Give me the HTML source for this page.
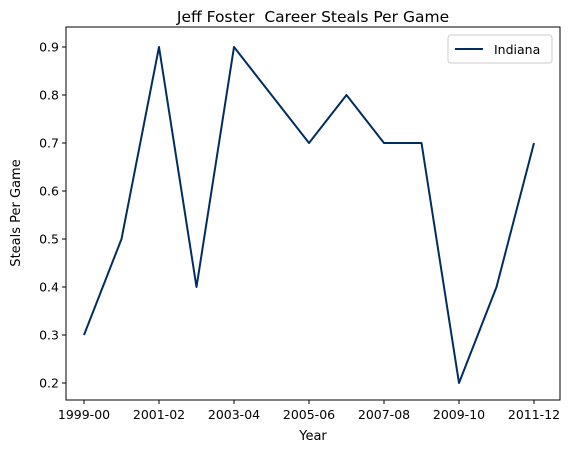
<!DOCTYPE html>
<html><head><meta charset="utf-8"><style>
body{margin:0;background:#fff;}
svg text{font-family:"DejaVu Sans","Liberation Sans",sans-serif;white-space:pre;}
</style></head><body>
<svg id="chart" width="573" height="453" xmlns="http://www.w3.org/2000/svg">
<text x="313" y="22" font-size="15.5" text-anchor="middle" xml:space="preserve">Jeff Foster  Career Steals Per Game</text>
<g id="axes"></g>
<text x="313" y="440" font-size="13" text-anchor="middle">Year</text>
<text x="20" y="213" font-size="13" text-anchor="middle" transform="rotate(-90 20 213)">Steals Per Game</text>
<g>
<rect x="448" y="35" width="104" height="28" rx="3" fill="#fff" stroke="#ccc"/>
<line x1="455" y1="49" x2="483" y2="49" stroke="#002D62" stroke-width="2"/>
<text x="494" y="54" font-size="12.5">Indiana</text>
</g>
</svg>
<script>
const years=["1999-00","2000-01","2001-02","2002-03","2003-04","2004-05","2005-06","2006-07","2007-08","2008-09","2009-10","2010-11","2011-12"];
const steals=[0.3,0.5,0.9,0.4,0.9,0.8,0.7,0.8,0.7,0.7,0.2,0.4,0.7];
const yTicks=[0.2,0.3,0.4,0.5,0.6,0.7,0.8,0.9];
const xTickLabels=["1999-00","2001-02","2003-04","2005-06","2007-08","2009-10","2011-12"];
const L=66,R=560,T=27,B=400;
const x=i=>84+i*(534-84)/(years.length-1);
const y=v=>383-(v-0.2)*480;
const NS="http://www.w3.org/2000/svg";
const g=document.getElementById('axes');
function mk(t,a){const e=document.createElementNS(NS,t);for(const k in a)e.setAttribute(k,a[k]);g.appendChild(e);return e;}
yTicks.forEach(v=>{
 const tk=mk('line',{x1:L-4,x2:L,y1:y(v),y2:y(v),stroke:'#000'});
 
 
 const t=mk('text',{x:L-7,y:y(v)+4.5,'font-size':12.5,'text-anchor':'end'});t.textContent=v.toFixed(1);
 
 
});
xTickLabels.forEach(lb=>{
 const i=years.indexOf(lb);
 const tk=mk('line',{x1:x(i),x2:x(i),y1:B,y2:B+4,stroke:'#000'});
 
 
 const t=mk('text',{x:x(i),y:B+19,'font-size':12.5,'text-anchor':'middle'});t.textContent=lb;
 
 
});
const line=mk('polyline',{points:steals.map((v,i)=>x(i)+','+y(v)).join(' '),fill:'none',stroke:'#002D62','stroke-width':2,'stroke-linejoin':'round'});


const fr=mk('rect',{x:L,y:T,width:R-L,height:B-T,fill:'none',stroke:'#000','stroke-width':1});


</script>
</body></html>
